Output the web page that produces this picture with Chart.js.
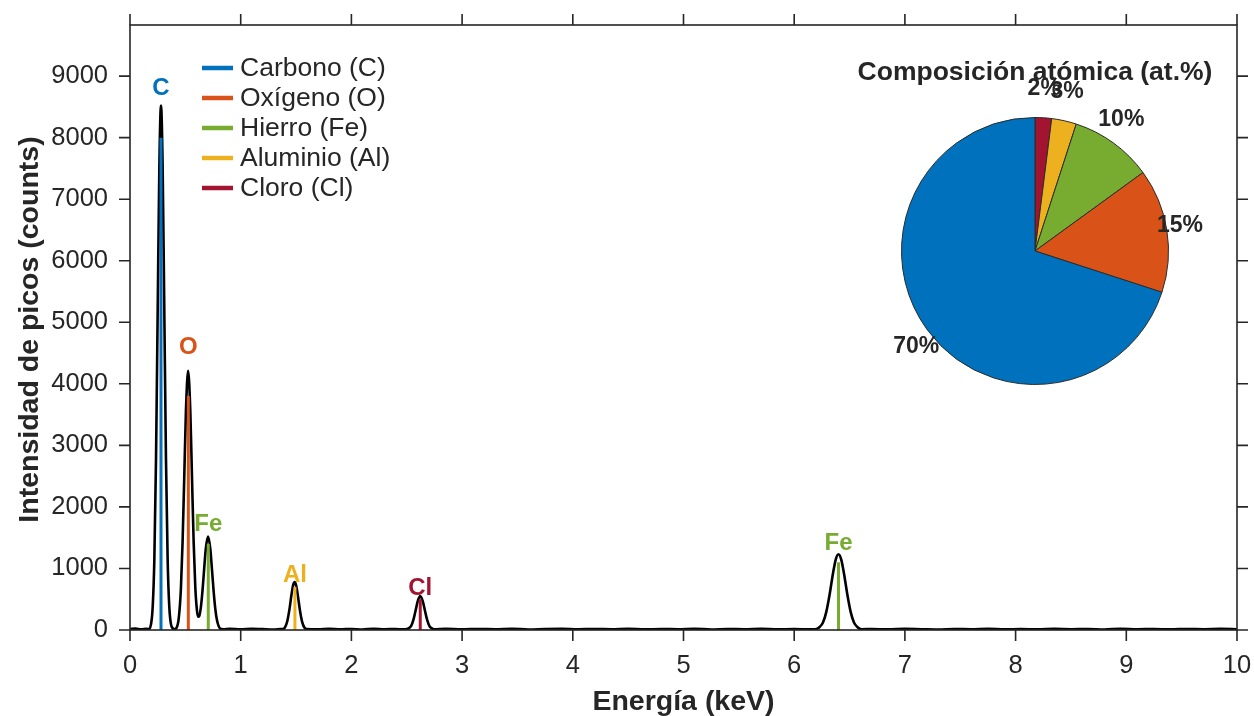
<!DOCTYPE html>
<html><head><meta charset="utf-8">
<script src="https://cdn.jsdelivr.net/npm/chart.js@4.4.1/dist/chart.umd.min.js"></script>
<style>
html,body{margin:0;padding:0;background:#fff;overflow:hidden}
#wrap{position:relative;width:1254px;height:716px}
#main{position:absolute;left:0;top:0}
#pie{position:absolute;left:845px;top:61px}
</style></head><body>
<div id="wrap"><canvas id="main" width="1254" height="716"></canvas><canvas id="pie" width="380" height="380"></canvas></div>
<script>
// ---- data ----
const energy = [0.00,0.05,0.10,0.15,0.17,0.19,0.205,0.22,0.235,0.25,0.265,0.28,0.295,0.31,0.325,0.34,0.355,0.37,0.385,0.40,
 0.42,0.44,0.46,0.475,0.49,0.505,0.525,0.545,0.56,0.575,0.59,0.605,0.615,0.625,0.64,0.655,0.67,0.685,0.705,0.725,0.74,0.755,0.77,0.785,0.80,0.815,0.84,
 0.90,1.00,1.10,1.20,1.30,1.36,1.38,1.40,1.42,1.44,1.46,1.475,1.487,1.50,1.515,1.535,1.555,1.575,1.595,
 1.70,1.80,1.90,2.00,2.10,2.20,2.30,2.40,2.47,2.50,2.52,2.54,2.56,2.58,2.60,2.622,2.645,2.665,2.685,2.705,2.725,2.745,
 2.85,3.00,3.15,3.30,3.45,3.60,3.75,3.90,4.05,4.20,4.35,4.50,4.65,4.80,4.95,5.10,5.25,5.40,5.55,5.70,5.85,6.00,6.10,6.15,
 6.19,6.23,6.26,6.29,6.32,6.35,6.375,6.40,6.425,6.45,6.48,6.51,6.54,6.57,6.61,
 6.70,6.85,7.00,7.15,7.30,7.45,7.60,7.75,7.90,8.05,8.20,8.35,8.50,8.65,8.80,8.95,9.10,9.25,9.40,9.55,9.70,9.85,10.00];
const counts = [15,22,12,18,14,95,375,1150,2770,5170,7520,8520,7520,5170,2770,1150,375,95,30,15,
 36,185,675,1428,2478,3542,4210,3542,2478,1428,690,314,218,222,367,639,995,1324,1520,1324,995,639,353,166,67,23,12,
 18,10,20,14,9,16,15,42,138,331,589,738,780,731,575,321,131,40,15,
 12,20,11,17,8,19,13,16,10,15,31,67,165,317,473,550,466,309,160,64,30,12,
 18,10,17,12,20,9,15,18,11,16,13,19,10,15,12,18,9,16,13,19,11,15,12,10,
 12,50,121,295,577,914,1144,1230,1144,914,577,295,121,50,12,
 16,10,18,13,9,17,12,20,11,15,10,18,13,16,9,19,12,15,10,17,13,18,12];

const elementNames   = ['Carbono (C)', 'Oxígeno (O)', 'Hierro (Fe)', 'Aluminio (Al)', 'Cloro (Cl)'];
const elementSymbols = ['C', 'O', 'Fe', 'Al', 'Cl'];
const elementColors  = ['#0072BD', '#D95319', '#77AC30', '#EDB120', '#A2142F'];
const atomicPercent  = [70, 15, 10, 3, 2];

const peakEnergy     = [0.28, 0.527, 0.707, 1.49, 2.622, 6.40];
const peakLineHeight = [8000, 3800, 1400, 700, 500, 1100];
const peakElement    = [0, 1, 2, 3, 4, 2];
const peakLabelY     = [8800, 4600, 1710, 890, 670, 1400];

const xTickValues = [0,1,2,3,4,5,6,7,8,9,10];
const yTickValues = [0,1000,2000,3000,4000,5000,6000,7000,8000,9000];

const FONT = "'Liberation Sans', Arial, Helvetica, sans-serif";
const INK = '#262626';

// ---- main chart ----
const datasets = [{
  data: energy.map((e, i) => ({x: e, y: counts[i]})),
  borderColor: '#000', borderWidth: 2.6, pointRadius: 0, showLine: true,
  cubicInterpolationMode: 'monotone', fill: false, order: 2
}];
peakEnergy.forEach((e, i) => {
  datasets.push({
    data: [{x: e, y: 0}, {x: e, y: peakLineHeight[i]}],
    borderColor: elementColors[peakElement[i]], borderWidth: 3, pointRadius: 0,
    showLine: true, fill: false, order: 1, borderCapStyle: 'butt'
  });
});

const framePlugin = {
  id: 'frame',
  afterDatasetsDraw(chart) {
    const {ctx, chartArea: a, scales} = chart;
    ctx.save();
    ctx.strokeStyle = INK; ctx.lineWidth = 1.6;
    ctx.strokeRect(a.left, a.top, a.right - a.left, a.bottom - a.top);
    const tl = 11;
    ctx.beginPath();
    xTickValues.forEach(v => {
      const px = scales.x.getPixelForValue(v);
      ctx.moveTo(px, a.bottom); ctx.lineTo(px, a.bottom + tl);
      ctx.moveTo(px, a.top); ctx.lineTo(px, a.top - tl);
    });
    yTickValues.forEach(v => {
      const py = scales.y.getPixelForValue(v);
      ctx.moveTo(a.left, py); ctx.lineTo(a.left - tl, py);
      ctx.moveTo(a.right, py); ctx.lineTo(a.right + tl, py);
    });
    ctx.stroke();

    // element labels above peaks
    ctx.font = 'bold 24px ' + FONT;
    ctx.textAlign = 'center'; ctx.textBaseline = 'middle';
    peakEnergy.forEach((e, i) => {
      ctx.fillStyle = elementColors[peakElement[i]];
      ctx.fillText(elementSymbols[peakElement[i]], scales.x.getPixelForValue(e), scales.y.getPixelForValue(peakLabelY[i]));
    });

    // legend
    ctx.textAlign = 'left'; ctx.textBaseline = 'middle';
    ctx.font = '26.5px ' + FONT;
    elementNames.forEach((n, i) => {
      const y = 68 + 30 * i;
      ctx.strokeStyle = elementColors[i]; ctx.lineWidth = 4.5;
      ctx.beginPath(); ctx.moveTo(202, y); ctx.lineTo(233, y); ctx.stroke();
      ctx.fillStyle = INK;
      ctx.fillText(n, 240, y + 1);
    });

    // axis titles
    ctx.fillStyle = INK;
    ctx.font = 'bold 28.5px ' + FONT;
    ctx.textAlign = 'center'; ctx.textBaseline = 'alphabetic';
    ctx.fillText('Energía (keV)', (a.left + a.right) / 2, 710);
    ctx.save();
    ctx.translate(38, (a.top + a.bottom) / 2 + 2);
    ctx.rotate(-Math.PI / 2);
    ctx.fillText('Intensidad de picos (counts)', 0, 0);
    ctx.restore();

    // inset title
    ctx.font = 'bold 26.5px ' + FONT;
    ctx.fillText('Composición atómica (at.%)', 1035, 80);
    ctx.restore();
  }
};

function zeroPad(s) { s.paddingTop = 0; s.paddingBottom = 0; s.paddingLeft = 0; s.paddingRight = 0; }

new Chart(document.getElementById('main'), {
  type: 'scatter',
  data: {datasets},
  options: {
    responsive: false, animation: false, devicePixelRatio: 1,
    layout: {padding: {left: 0, top: 25, right: 17, bottom: 0}},
    plugins: {legend: {display: false}, tooltip: {enabled: false}},
    scales: {
      x: {
        type: 'linear', min: 0, max: 10,
        afterBuildTicks: s => { s.ticks = xTickValues.map(v => ({value: v})); },
        afterFit: s => { s.height = 86; zeroPad(s); },
        grid: {display: false, drawTicks: false}, border: {display: false},
        ticks: {font: {family: FONT, size: 25.5}, color: INK, padding: 21, maxRotation: 0, autoSkip: false, callback: v => String(v)}
      },
      y: {
        type: 'linear', min: 0, max: 9830,
        afterBuildTicks: s => { s.ticks = yTickValues.map(v => ({value: v})); },
        afterFit: s => { s.width = 130; zeroPad(s); },
        grid: {display: false, drawTicks: false}, border: {display: false},
        ticks: {font: {family: FONT, size: 25.5}, color: INK, padding: 22, autoSkip: false, callback: v => String(v)}
      }
    }
  },
  plugins: [framePlugin]
});

// ---- inset pie (clockwise from top: Cl, Al, Fe, O, C) ----
const pieOrder = [4, 3, 2, 1, 0];
const pieLabelPlugin = {
  id: 'pieLabels',
  afterDatasetsDraw(chart) {
    const {ctx} = chart;
    const meta = chart.getDatasetMeta(0);
    ctx.save();
    ctx.font = 'bold 23px ' + FONT;
    ctx.fillStyle = INK; ctx.textAlign = 'center'; ctx.textBaseline = 'middle';
    meta.data.forEach((arc, i) => {
      const p = arc.getProps(['x', 'y', 'startAngle', 'endAngle', 'outerRadius'], true);
      const mid = (p.startAngle + p.endAngle) / 2;
      const dx = Math.cos(mid), dy = Math.sin(mid);
      const r = p.outerRadius * 1.1;
      ctx.fillText(chart.data.datasets[0].data[i] + '%', p.x + r * dx, p.y + r * dy + dy * 16);
    });
    ctx.restore();
  }
};
new Chart(document.getElementById('pie'), {
  type: 'pie',
  data: {
    labels: pieOrder.map(i => elementNames[i]),
    datasets: [{
      data: pieOrder.map(i => atomicPercent[i]),
      backgroundColor: pieOrder.map(i => elementColors[i]),
      borderColor: '#2b2b2b', borderWidth: 1
    }]
  },
  options: {
    responsive: false, animation: false, devicePixelRatio: 1,
    layout: {padding: 56},
    plugins: {legend: {display: false}, tooltip: {enabled: false}}
  },
  plugins: [pieLabelPlugin]
});
</script>
</body></html>
